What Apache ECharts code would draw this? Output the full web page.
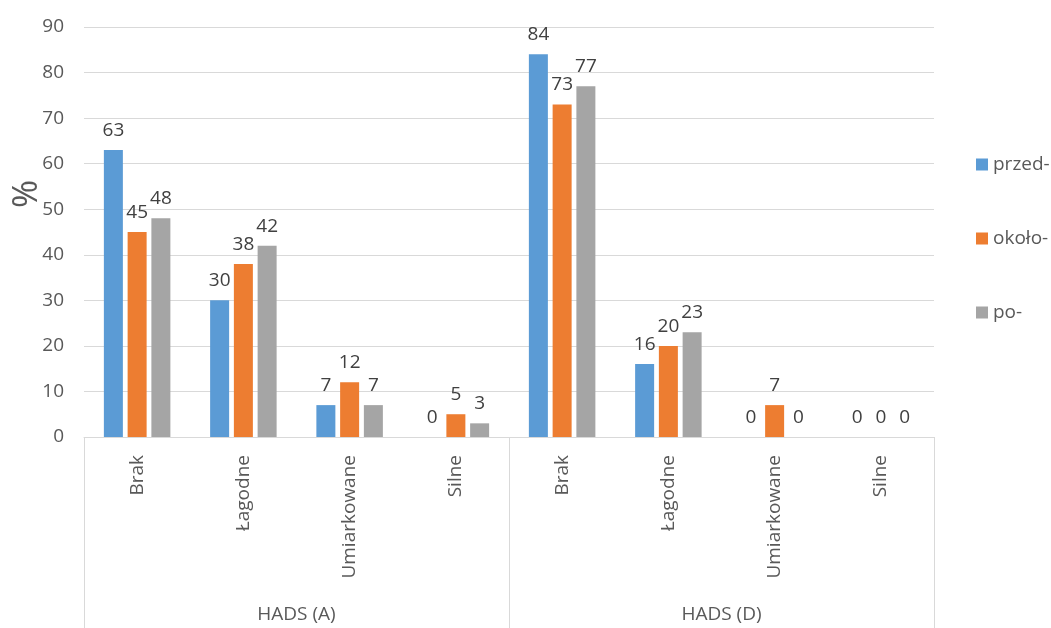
<!DOCTYPE html>
<html>
<head>
<meta charset="utf-8">
<script src="https://cdn.jsdelivr.net/npm/echarts@6/dist/echarts.min.js"></script>
<style>
  html, body { margin: 0; padding: 0; background: #fff; }
  #chart { width: 1051px; height: 628px; }
</style>
</head>
<body>
<div id="chart"></div>
<script>
var categories = ['Brak', 'Łagodne', 'Umiarkowane', 'Silne', 'Brak', 'Łagodne', 'Umiarkowane', 'Silne']
var groups = ['HADS (A)', 'HADS (D)']
var przed = [63, 30, 7, 0, 84, 16, 0, 0]
var okolo = [45, 38, 12, 5, 73, 20, 7, 0]
var po = [48, 42, 7, 3, 77, 23, 0, 0]
var seriesNames = ['przed-', 'około-', 'po-']
var colors = ['#5B9BD5', '#ED7D31', '#A5A5A5']

var font = '"Open Sans", sans-serif'
var myChart = echarts.init(document.getElementById('chart'))

var series = []
var datas = [przed, okolo, po]
for (var i = 0; i < datas.length; i++) {
    series.push({
        name: seriesNames[i],
        type: 'bar',
        xAxisIndex: 0,
        data: datas[i],
        barWidth: 19,
        barGap: '25%',
        itemStyle: { color: colors[i] },
        label: {
            show: true,
            position: 'top',
            distance: 10,
            color: '#404040',
            fontSize: 19,
            fontFamily: font
        }
    })
}

var option = {
    animation: false,
    color: colors,
    grid: { left: 84, right: 117, top: 27, bottom: 191 },
    legend: {
        orient: 'vertical',
        left: 971,
        top: 150,
        itemWidth: 12,
        itemHeight: 12,
        itemGap: 55,
        icon: 'rect',
        textStyle: { color: '#595959', fontSize: 19, fontFamily: font },
        data: seriesNames
    },
    graphic: [{
        type: 'text',
        left: 10,
        top: 180,
        rotation: Math.PI / 2,
        style: { text: '%', fill: '#595959', font: '34px ' + font }
    }],
    xAxis: [
        {
            type: 'category',
            data: categories,
            axisLine: { lineStyle: { color: '#d9d9d9' } },
            axisTick: { show: false },
            axisLabel: {
                rotate: 90,
                interval: 0,
                margin: 18,
                color: '#595959',
                fontSize: 19,
                fontFamily: font
            }
        },
        {
            type: 'category',
            position: 'bottom',
            data: groups,
            axisLine: { show: false },
            axisTick: { show: true, length: 191, interval: 0, lineStyle: { color: '#d9d9d9' } },
            axisLabel: { margin: 168, color: '#595959', fontSize: 19, fontFamily: font }
        }
    ],
    yAxis: {
        type: 'value',
        min: 0,
        max: 90,
        interval: 10,
        axisLine: { show: false },
        axisTick: { show: false },
        splitLine: { lineStyle: { color: '#d9d9d9' } },
        axisLabel: { margin: 20, color: '#595959', fontSize: 19, fontFamily: font }
    },
    series: series
}

myChart.setOption(option)
</script>
</body>
</html>
